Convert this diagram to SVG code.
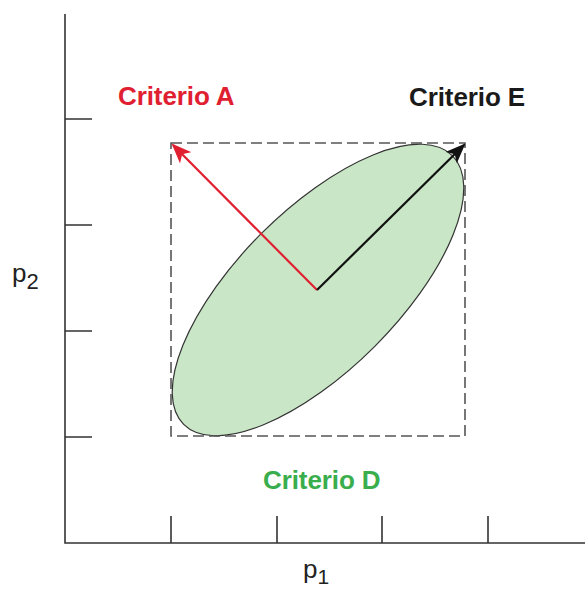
<svg xmlns="http://www.w3.org/2000/svg" width="585" height="592" viewBox="0 0 585 592">
  <style>
    .axis { stroke: #333; stroke-width: 1.6; fill: none; }
    .lbl { font-family: "Liberation Sans", Arial, sans-serif; font-weight: 700; font-size: 26px; letter-spacing: -0.1px; }
    .ax { font-family: "Liberation Sans", Arial, sans-serif; fill: #222; }
  </style>
  <defs>
    <marker id="headK" viewBox="0 0 20 16" refX="18" refY="8" markerWidth="20" markerHeight="16" markerUnits="userSpaceOnUse" orient="auto">
      <path d="M0,0 L20,8 L0,16 L5,8 Z" fill="#111"/>
    </marker>
    <marker id="headR" viewBox="0 0 20 16" refX="18" refY="8" markerWidth="20" markerHeight="16" markerUnits="userSpaceOnUse" orient="auto">
      <path d="M0,0 L20,8 L0,16 L5,8 Z" fill="#e02030"/>
    </marker>
  </defs>
  <rect width="585" height="592" fill="#fff"/>

  <g id="axes">
    <path class="axis" d="M65,14 V543 H585"/>
    <path class="axis" d="M65,119 H92 M65,225 H92 M65,331 H92 M65,437 H92"/>
    <path class="axis" d="M171,516 V543 M277,516 V543 M382,516 V543 M488,516 V543"/>
    <text class="ax" x="12" y="282" font-size="26">p<tspan font-size="22" dy="7">2</tspan></text>
    <text class="ax" x="303" y="578" font-size="26">p<tspan font-size="21" dy="6">1</tspan></text>
  </g>

  <g id="ellipse">
    <ellipse cx="318" cy="290" rx="190" ry="80" transform="rotate(-45 318 290)" fill="#c9e7c6" stroke="#333" stroke-width="1.2"/>
  </g>

  <g id="box">
    <rect x="171" y="143" width="294" height="293" fill="none" stroke="#555" stroke-width="1.6" stroke-dasharray="11 5"/>
  </g>

  <g id="connectors">
    <line x1="317" y1="290" x2="173" y2="145" stroke="#e02030" stroke-width="2.2" marker-end="url(#headR)"/>
    <line x1="317" y1="290" x2="464" y2="145" stroke="#111" stroke-width="2.2" marker-end="url(#headK)"/>
  </g>

  <g id="criterio-a">
    <text class="lbl" x="118" y="105" fill="#e02030">Criterio A</text>
  </g>
  <g id="criterio-e">
    <text class="lbl" x="409" y="106" fill="#1a1a1a">Criterio E</text>
  </g>
  <g id="criterio-d">
    <text class="lbl" x="263" y="489" fill="#3aae4c">Criterio D</text>
  </g>
</svg>
